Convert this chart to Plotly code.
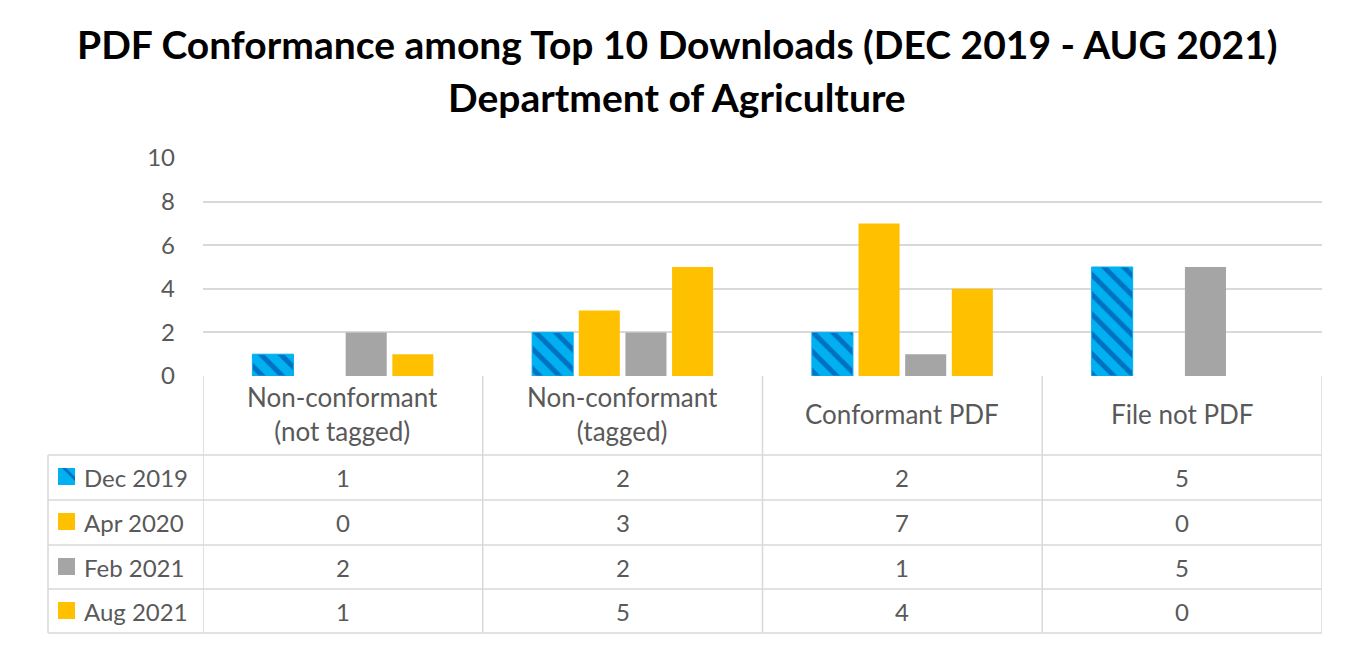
import plotly.graph_objects as go

categories = ["Non-conformant<br>(not tagged)", "Non-conformant<br>(tagged)", "Conformant PDF", "File not PDF"]
series_names = ["Dec 2019", "Apr 2020", "Feb 2021", "Aug 2021"]
dec_2019 = [1, 2, 2, 5]
apr_2020 = [0, 3, 7, 0]
feb_2021 = [2, 2, 1, 5]
aug_2021 = [1, 5, 4, 0]
series_values = [dec_2019, apr_2020, feb_2021, aug_2021]
series_colors = ["#00B0F0", "#FFC000", "#A5A5A5", "#FFC000"]
y_ticks = [0, 2, 4, 6, 8, 10]

PAGE_W, PAGE_H = 1345, 649
OFF = 8  # default body margin of the page
W, H = PAGE_W - 2 * OFF, PAGE_H - 2 * OFF
PL, PR, PT, PB = 203, 1322, 158, 376  # plot area in page pixels
FONT = "Lato"
GRID = "#D9D9D9"
TXT = "#595959"

def px(x):
    return (x - PL) / (PR - PL)

def py(y):
    return (PB - y) / (PB - PT)

fig = go.Figure()
for i, (name, vals, col) in enumerate(zip(series_names, series_values, series_colors)):
    marker = dict(color=col, line=dict(width=0))
    if i == 0:
        marker = dict(color=col, line=dict(color="#00B0F0", width=1),
                      pattern=dict(shape="\\", fgcolor="#0070C0", bgcolor=col,
                                   size=14, solidity=0.35, fillmode="replace"))
    fig.add_trace(go.Bar(x=list(range(len(categories))), y=vals, name=name,
                         marker=marker, showlegend=False, hoverinfo="skip"))

shapes = []
line = dict(color=GRID, width=1.5)
rows = [455, 500, 545, 589, 633]
for r in rows:
    shapes.append(dict(type="line", xref="paper", yref="paper", x0=px(48), x1=1, y0=py(r), y1=py(r), line=line))
for k in range(len(categories) + 1):
    shapes.append(dict(type="line", xref="x", yref="paper", x0=k - 0.5, x1=k - 0.5,
                       y0=py(PB), y1=py(633), line=line))
shapes.append(dict(type="line", xref="paper", yref="paper", x0=px(48), x1=px(48),
                   y0=py(455), y1=py(633), line=line))

annotations = []
annotations.append(dict(text="<b>PDF Conformance among Top 10 Downloads (DEC 2019 - AUG 2021)</b>",
                        xref="paper", yref="paper", x=px(677), y=py(44), showarrow=False,
                        xanchor="center", yanchor="middle",
                        font=dict(family=FONT, size=39, color="#000000")))
annotations.append(dict(text="<b>Department of Agriculture</b>",
                        xref="paper", yref="paper", x=px(677), y=py(97), showarrow=False,
                        xanchor="center", yanchor="middle",
                        font=dict(family=FONT, size=39, color="#000000")))
for k, c in enumerate(categories):
    annotations.append(dict(text=c, xref="x", yref="paper", x=k, y=py(414), showarrow=False,
                            xanchor="center", yanchor="middle",
                            font=dict(family=FONT, size=26, color=TXT)))
row_centers = [477, 522, 567, 611]
for i, (name, vals, col) in enumerate(zip(series_names, series_values, series_colors)):
    yc = row_centers[i]
    annotations.append(dict(text=name, xref="paper", yref="paper", x=px(82), y=py(yc),
                            showarrow=False, xanchor="left", yanchor="middle",
                            font=dict(family=FONT, size=24, color=TXT)))
    for k, v in enumerate(vals):
        annotations.append(dict(text=str(v), xref="x", yref="paper", x=k, y=py(yc),
                                showarrow=False, xanchor="center", yanchor="middle",
                                font=dict(family=FONT, size=24, color=TXT)))
    shapes.append(dict(type="rect", xref="paper", yref="paper", x0=px(58), x1=px(75),
                       y0=py(yc + 8), y1=py(yc - 9), fillcolor=col, line=dict(width=0)))
    if i == 0:
        shapes.append(dict(type="path", xref="paper", yref="paper",
                           path=f"M {px(62)} {py(yc - 9)} L {px(66)} {py(yc - 9)} L {px(75)} {py(yc)} L {px(75)} {py(yc + 4)} Z",
                           fillcolor="#0070C0", line=dict(width=0)))

fig.update_layout(
    width=W, height=H,
    margin=dict(l=PL - OFF, r=W - (PR - OFF), t=PT - OFF, b=H - (PB - OFF), pad=0),
    paper_bgcolor="white", plot_bgcolor="white",
    barmode="group", bargap=0.333, bargroupgap=0.12,
    font=dict(family=FONT, color=TXT),
    xaxis=dict(range=[-0.5, len(categories) - 0.5], showticklabels=False, showgrid=False,
               zeroline=False, showline=False, ticks=""),
    yaxis=dict(range=[0, 10], tickvals=y_ticks, showgrid=True, gridcolor=GRID, gridwidth=1.5,
               zeroline=False, showline=False, ticks="", ticklabelstandoff=27,
               tickfont=dict(family=FONT, size=24, color=TXT)),
    shapes=shapes, annotations=annotations,
)

fig.write_html("out.html")
